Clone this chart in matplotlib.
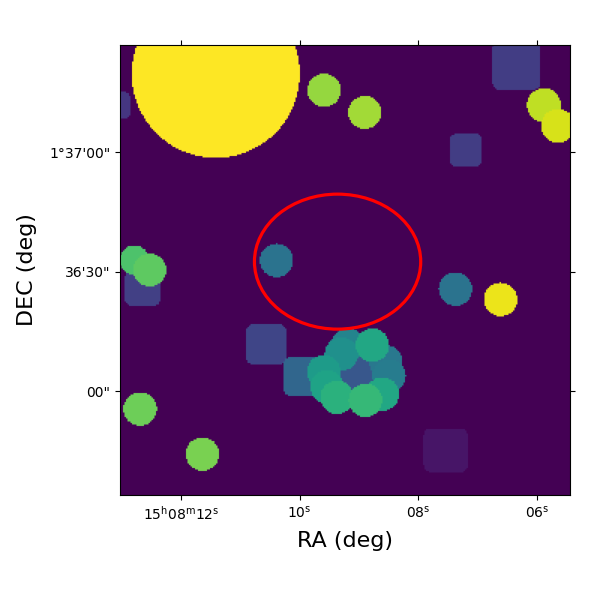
import matplotlib
matplotlib.use("Agg")
import matplotlib.pyplot as plt
import numpy as np
from matplotlib.patches import Ellipse

# RA in seconds after 15h08m, DEC in arcsec after 1d36m, sizes in arcsec
square_ra = [6.347, 7.197, 13.082, 12.643, 10.561, 9.946, 8.987, 7.539]
square_dec = [81.65, 60.5, 71.73, 25.86, 11.75, 3.64, 4.77, -14.86]
square_half = [6.08, 4.02, 3.34, 4.39, 5.02, 4.82, 5.02, 5.52]
square_val = [0.18, 0.18, 0.16, 0.19, 0.21, 0.33, 0.27, 0.055]

circle_ra = [11.411, 9.588, 8.902, 5.884, 5.648, 12.783, 12.522, 10.389, 7.375, 6.613,
             8.549, 8.493, 9.184, 9.295, 9.593, 9.537, 8.604, 9.369, 8.891, 8.773,
             12.685, 11.635]
circle_dec = [79.66, 75.5, 69.97, 71.8, 66.6, 32.9, 30.4, 32.8, 25.6, 23.0,
              7.36, 3.77, 11.55, 9.29, 4.85, 1.08, -0.75, -1.58, -2.33, 11.55,
              -4.52, -15.82]
circle_rad = [21.09, 4.2, 4.15, 4.25, 4.25, 3.7, 4.15, 4.2, 4.2, 4.2,
              4.2, 4.2, 4.2, 4.2, 4.2, 4.2, 4.2, 4.2, 4.2, 4.2,
              4.2, 4.2]
circle_val = [1.0, 0.84, 0.86, 0.905, 0.94, 0.72, 0.75, 0.38, 0.38, 0.97,
              0.40, 0.42, 0.45, 0.50, 0.55, 0.58, 0.60, 0.64, 0.67, 0.60,
              0.78, 0.80]

region_ra, region_dec = 9.36, 32.5
region_width, region_height = 2.80, 33.9

ra_ticks = [12, 10, 8, 6]
ra_labels = [r"15$^{\rm h}$08$^{\rm m}$12$^{\rm s}$", r"10$^{\rm s}$", r"08$^{\rm s}$", r"06$^{\rm s}$"]
dec_ticks = [60, 30, 0]
dec_labels = ["1°37'00\"", "36'30\"", "00\""]

ra_min, ra_max = 5.446, 13.024
dec_min, dec_max = -26.1, 86.9
npix = 300
arcsec_per_s = 14.91

ra_grid = np.linspace(ra_max, ra_min, npix, endpoint=False) - (ra_max - ra_min) / npix / 2
dec_grid = np.linspace(dec_max, dec_min, npix, endpoint=False) - (dec_max - dec_min) / npix / 2
xx, yy = np.meshgrid(ra_grid, dec_grid)

mask = np.zeros((npix, npix))
for ra, dec, half, val in zip(square_ra, square_dec, square_half, square_val):
    # rounded corners
    corner = 0.34 * half
    dx = np.abs(xx - ra) * arcsec_per_s - (half - corner)
    dy = np.abs(yy - dec) - (half - corner)
    dist = np.hypot(np.maximum(dx, 0), np.maximum(dy, 0))
    mask[dist <= corner] = val
for ra, dec, rad, val in zip(circle_ra, circle_dec, circle_rad, circle_val):
    dist = np.hypot((xx - ra) * arcsec_per_s, yy - dec)
    mask[dist <= rad] = val

fig = plt.figure(figsize=(6, 6), dpi=100)
ax = fig.add_axes([0.2, 0.175, 0.75, 0.75])
ax.imshow(mask, cmap="viridis", vmin=0, vmax=1, origin="upper", aspect="auto",
          extent=[ra_max, ra_min, dec_min, dec_max])
ax.add_patch(Ellipse((region_ra, region_dec), region_width, region_height,
                     fill=False, edgecolor="red", linewidth=2.3))

ax.set_xticks(ra_ticks, ra_labels)
ax.set_yticks(dec_ticks, dec_labels)
ax.tick_params(top=True, right=True)
ax.set_xlabel("RA (deg)", fontsize=16, labelpad=6)
ax.set_ylabel("DEC (deg)", fontsize=16, labelpad=9)

fig.savefig("out.png", dpi=100)
